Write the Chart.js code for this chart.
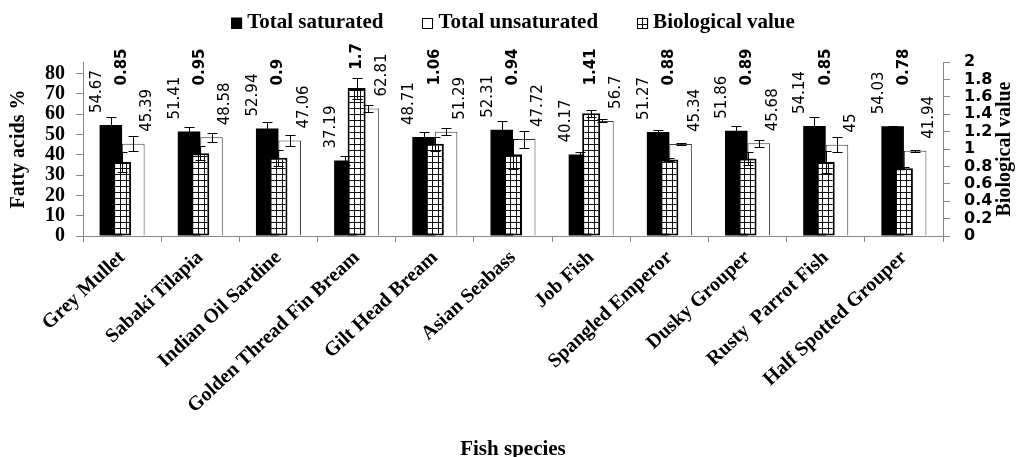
<!DOCTYPE html>
<html>
<head>
<meta charset="utf-8">
<script src="https://cdn.jsdelivr.net/npm/chart.js@4.4.1/dist/chart.umd.min.js"></script>
<style>
  body { margin: 0; background: #fff; }
  #cadre { width: 1019px; height: 457px; position: relative; }
</style>
</head>
<body>
<div id="cadre"><canvas id="graphique"></canvas></div>
<script>
// Données
const especes = ["Grey Mullet", "Sabaki Tilapia", "Indian Oil Sardine", "Golden Thread Fin Bream",
  "Gilt Head Bream", "Asian Seabass", "Job Fish", "Spangled Emperor", "Dusky Grouper",
  "Rusty  Parrot Fish", "Half Spotted Grouper"];
const satures = [54.67, 51.41, 52.94, 37.19, 48.71, 52.31, 40.17, 51.27, 51.86, 54.14, 54.03];
const insatures = [45.39, 48.58, 47.06, 62.81, 51.29, 47.72, 56.7, 45.34, 45.68, 45, 41.94];
const valeurBio = [0.85, 0.95, 0.9, 1.7, 1.06, 0.94, 1.41, 0.88, 0.89, 0.85, 0.78];
const errSatures = [3.9, 2.5, 3, 2, 2.5, 4.4, 1, 1, 2.5, 4.4, 0.3];
const errInsatures = [3.7, 2.2, 2.7, 1.7, 1.7, 4.2, 0.7, 0.5, 1.7, 3.7, 0.5];
const errBio = [0.11, 0.08, 0.09, 0.12, 0.08, 0.17, 0.04, 0.02, 0.07, 0.13, 0.01];
const ticksGauche = [0, 10, 20, 30, 40, 50, 60, 70, 80];
const ticksDroite = [0, 0.2, 0.4, 0.6, 0.8, 1, 1.2, 1.4, 1.6, 1.8, 2];

const canvas = document.getElementById("graphique");
const ctx0 = canvas.getContext("2d");

// motif quadrillé pour la valeur biologique
function motifGrille() {
  const c = document.createElement("canvas");
  c.width = 6; c.height = 6;
  const g = c.getContext("2d");
  g.fillStyle = "#fff"; g.fillRect(0, 0, 6, 6);
  g.fillStyle = "#111";
  g.fillRect(0, 0, 6, 1);
  g.fillRect(0, 0, 1, 6);
  return ctx0.createPattern(c, "repeat");
}
const motif = motifGrille();

const gris = "#868686";
const serif = "'Liberation Serif', 'Times New Roman', serif";
const sans = "'DejaVu Sans', sans-serif";

// Barres d'erreur
const barresErreur = {
  id: "barresErreur",
  afterDatasetsDraw(chart) {
    const ctx = chart.ctx;
    ctx.save();
    ctx.strokeStyle = "#000";
    ctx.lineWidth = 1;
    chart.data.datasets.forEach((ds, i) => {
      const meta = chart.getDatasetMeta(i);
      const echelle = chart.scales[ds.yAxisID];
      meta.data.forEach((barre, j) => {
        const v = ds.data[j], e = ds.erreurs[j];
        const yh = Math.round(echelle.getPixelForValue(v + e)) + 0.5;
        const yb = Math.round(echelle.getPixelForValue(v - e)) + 0.5;
        const x = Math.round(barre.x) + 0.5;
        ctx.beginPath();
        ctx.moveTo(x, yh); ctx.lineTo(x, yb);
        ctx.moveTo(x - 5, yh); ctx.lineTo(x + 5, yh);
        ctx.moveTo(x - 5, yb); ctx.lineTo(x + 5, yb);
        ctx.stroke();
      });
    });
    ctx.restore();
  }
};

// Étiquettes verticales, légende et titre de droite
const decor = {
  id: "decor",
  afterDraw(chart) {
    const ctx = chart.ctx;
    const zone = chart.chartArea;
    ctx.save();
    ctx.fillStyle = "#000";
    ctx.textBaseline = "middle";
    ctx.textAlign = "left";

    chart.data.datasets.forEach((ds, i) => {
      const meta = chart.getDatasetMeta(i);
      const echelle = chart.scales[ds.yAxisID];
      meta.data.forEach((barre, j) => {
        let x, y;
        if (i === 2) {
          ctx.font = "bold 15px " + sans;
          x = barre.x;
          const haut = echelle.getPixelForValue(ds.data[j] + ds.erreurs[j]);
          y = Math.min(echelle.getPixelForValue(1.73), haut - 8);
        } else {
          ctx.font = "15px " + sans;
          x = barre.x + (i === 0 ? -14 : 14);
          y = barre.y - 12;
        }
        ctx.save();
        ctx.translate(x, y);
        ctx.rotate(-Math.PI / 2);
        ctx.fillText(String(ds.data[j]), 0, 0);
        ctx.restore();
      });
    });

    // légende
    ctx.font = "bold 21px " + serif;
    const cote = 11, ecart = 39;
    const largeurs = chart.data.datasets.map(ds => cote + 5 + ctx.measureText(ds.label).width);
    const total = largeurs.reduce((a, b) => a + b, 0) + ecart * (largeurs.length - 1);
    let x = (zone.left + zone.right) / 2 - total / 2;
    const yl = 23;
    chart.data.datasets.forEach((ds, i) => {
      ctx.fillStyle = ds.backgroundColor;
      ctx.fillRect(x, yl - cote / 2, cote, cote);
      ctx.strokeStyle = "#000";
      ctx.lineWidth = 1;
      ctx.strokeRect(Math.round(x) + 0.5, Math.round(yl - cote / 2) + 0.5, cote - 1, cote - 1);
      ctx.fillStyle = "#000";
      ctx.fillText(ds.label, x + cote + 5, yl);
      x += largeurs[i] + ecart;
    });

    // titre de l'axe de droite
    ctx.font = "bold 20px " + serif;
    ctx.textAlign = "center";
    ctx.translate(chart.scales.y1.right - 14, (zone.top + zone.bottom) / 2);
    ctx.rotate(-Math.PI / 2);
    ctx.fillText("Biological value", 0, 0);
    ctx.restore();
  }
};

new Chart(canvas, {
  type: "bar",
  data: {
    labels: especes,
    datasets: [
      {
        label: "Total saturated", data: satures, erreurs: errSatures,
        backgroundColor: "#000", borderColor: "#000", borderWidth: 0,
        yAxisID: "y", categoryPercentage: 0.576, barPercentage: 1
      },
      {
        label: "Total unsaturated", data: insatures, erreurs: errInsatures,
        backgroundColor: "#fff", borderColor: "#3a3a3a", borderWidth: 1,
        yAxisID: "y", categoryPercentage: 0.576, barPercentage: 1
      },
      {
        label: "Biological value", data: valeurBio, erreurs: errBio,
        backgroundColor: motif, borderColor: "#000", borderWidth: 2, borderSkipped: false,
        yAxisID: "y1", grouped: false, maxBarThickness: 18, order: -1
      }
    ]
  },
  options: {
    responsive: true,
    maintainAspectRatio: false,
    animation: false,
    layout: { padding: { top: 62, left: 0, right: 0, bottom: 0 } },
    plugins: {
      legend: { display: false },
      tooltip: { enabled: false }
    },
    scales: {
      x: {
        grid: { drawOnChartArea: false, drawTicks: true, tickLength: 6, color: gris, offset: true },
        border: { color: gris },
        ticks: {
          autoSkip: false, minRotation: 43, maxRotation: 43, padding: 4,
          color: "#000", font: { family: serif, size: 20, weight: "bold" }
        },
        title: {
          display: true, text: "Fish species", color: "#000",
          font: { family: serif, size: 21, weight: "bold" }, padding: { top: 0, bottom: -5 }
        },
        afterFit: s => { s.height = 221; }
      },
      y: {
        position: "left", min: 0, max: 85.7,
        grid: { drawOnChartArea: false, drawTicks: true, tickLength: 7, color: gris },
        border: { color: gris },
        afterBuildTicks: s => { s.ticks = ticksGauche.map(v => ({ value: v })); },
        ticks: { autoSkip: false, padding: 11, color: "#000", font: { family: serif, size: 20, weight: "bold" } },
        title: {
          display: true, text: "Fatty acids %", color: "#000",
          font: { family: serif, size: 20, weight: "bold" }, padding: { top: 7, bottom: 0 }
        },
        afterFit: s => { s.width = 83; }
      },
      y1: {
        position: "right", min: 0, max: 2,
        grid: { drawOnChartArea: false, drawTicks: true, tickLength: 7, color: gris },
        border: { color: gris },
        afterBuildTicks: s => { s.ticks = ticksDroite.map(v => ({ value: v })); },
        ticks: {
          autoSkip: false, padding: 14, color: "#000", font: { family: sans, size: 16, weight: "bold" },
          callback: v => String(+v.toFixed(1))
        },
        afterFit: s => { s.width = 76; }
      }
    }
  },
  plugins: [barresErreur, decor]
});
</script>
</body>
</html>
